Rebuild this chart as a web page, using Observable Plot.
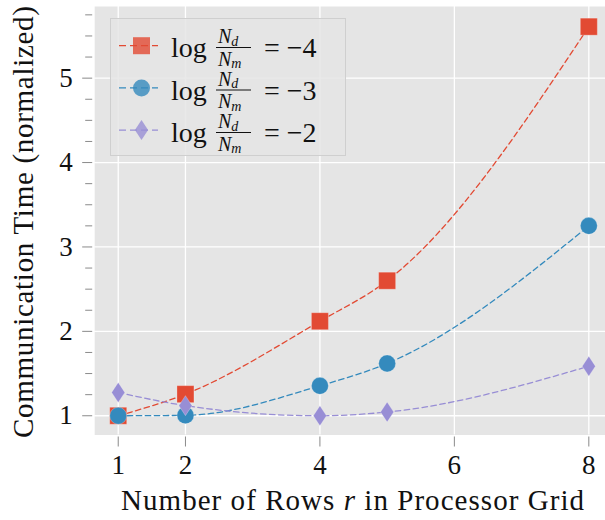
<!DOCTYPE html>
<html><head><meta charset="utf-8">
<script src="https://cdn.jsdelivr.net/npm/d3@7"></script>
<script src="https://cdn.jsdelivr.net/npm/@observablehq/plot@0.6"></script>
<style>
body{margin:0;background:#fff}
#chart{position:relative;width:605px;height:520px}
#chart svg text, #chart svg tspan{font-family:"Liberation Serif","LiberationSerif","DejaVu Serif","Tinos","Times New Roman",Times,serif}
</style>
</head><body><div id="chart"></div>
<script>
// ---- data ----
const rows = [1, 2, 4, 5, 8];
const series4 = [1.0, 1.256, 2.12, 2.60, 5.61];
const series3 = [1.0, 1.005, 1.355, 1.62, 3.25];
const series2 = [1.276, 1.12, 1.0, 1.044, 1.587];
const seriesExp = ["−4", "−3", "−2"];
const seriesColors = ["#E24A33", "#348ABD", "#988ED5"];
const xTicks = [1, 2, 4, 6, 8];
const yTicks = [1, 2, 3, 4, 5];
const yMinorTicks = [1.25, 1.5, 1.75, 2.25, 2.5, 2.75, 3.25, 3.5, 3.75, 4.25, 4.5, 4.75, 5.25, 5.5, 5.75];
const xLabelParts = ["Number of Rows ", "r", " in Processor Grid"];
const yLabel = "Communication Time (normalized)";

// ---- symbols ----
const squareSym = {draw(ctx, size){const r = Math.sqrt(size/Math.PI); ctx.rect(-r,-r,2*r,2*r);}};
const thinDiamond = {draw(ctx, size){const r = Math.sqrt(size/Math.PI); ctx.moveTo(0,-r); ctx.lineTo(0.66*r,0); ctx.lineTo(0,r); ctx.lineTo(-0.66*r,0); ctx.closePath();}};
const seriesSymbols = [squareSym, "circle", thinDiamond];
const seriesR = [8.5, 8.5, 10];
const seriesValues = [series4, series3, series2];

const FONT = '"Liberation Serif","LiberationSerif","DejaVu Serif","Tinos","Times New Roman",Times,serif';

const seriesMarks = seriesValues.flatMap((vals, k) => {
  const d = rows.map((x, i) => ({x, y: vals[i]}));
  return [
    Plot.line(d, {x: "x", y: "y", stroke: seriesColors[k], strokeWidth: 1.3, strokeDasharray: "5.5,3.5", curve: "monotone-x"}),
    Plot.dot(d, {x: "x", y: "y", r: seriesR[k], symbol: seriesSymbols[k], fill: seriesColors[k], stroke: "#ffffff", strokeOpacity: 0.25, strokeWidth: 1})
  ];
});

const plot = Plot.plot({
  width: 605,
  height: 520,
  marginLeft: 94.2,
  marginRight: 0,
  marginTop: 6,
  marginBottom: 85.5,
  style: {fontFamily: FONT, fontSize: "27px", background: "#fff", color: "#111"},
  x: {domain: [0.65, 8.248]},
  y: {domain: [0.772, 5.849]},
  marks: [
    Plot.frame({fill: "#E5E5E5", stroke: null}),
    Plot.gridX(xTicks, {stroke: "#fff", strokeOpacity: 1, strokeWidth: 1.3}),
    Plot.gridY(yTicks, {stroke: "#fff", strokeOpacity: 1, strokeWidth: 1.3}),
    Plot.axisX(xTicks, {tickSize: 10, tickPadding: 8, dy: 2, stroke: "#8a8a8a", fill: "#111", label: null, tickFormat: d => String(d)}),
    Plot.axisY(yTicks, {tickSize: 10, tickPadding: 10, dx: -2, stroke: "#8a8a8a", fill: "#111", label: null, tickFormat: d => String(d)}),
    Plot.axisY(yMinorTicks, {tickSize: 7, dx: -2, stroke: "#8a8a8a", text: null, label: null}),
    ...seriesMarks
  ]
});

document.getElementById("chart").appendChild(plot);
const svg = d3.select(plot);

// axis labels
svg.append("text")
  .attr("transform", "translate(33,222) rotate(-90)")
  .attr("text-anchor", "middle")
  .attr("font-size", 29).attr("fill", "#111")
  .attr("textLength", 432).attr("lengthAdjust", "spacing")
  .text(yLabel);

const xl = svg.append("text")
  .attr("x", 352.5).attr("y", 510)
  .attr("text-anchor", "middle")
  .attr("font-size", 29).attr("fill", "#111")
  .attr("textLength", 463).attr("lengthAdjust", "spacing");
xLabelParts.forEach((p, i) => xl.append("tspan").attr("font-style", i === 1 ? "italic" : null).text(p));

// legend
const lg = svg.append("g").attr("fill", "#111").attr("text-anchor", "start");
lg.append("rect").attr("x", 110.5).attr("y", 18.5).attr("width", 235).attr("height", 137)
  .attr("fill", "#E5E5E5").attr("fill-opacity", 0.85).attr("stroke", "#cfcfcf").attr("stroke-width", 1);

const symPath = [
  "M-8.5,-8.5h17v17h-17z",
  d3.symbol(d3.symbolCircle, Math.PI * 8.5 * 8.5)(),
  "M0,-10L6.6,0L0,10L-6.6,0Z"
];
const lt = lg.append("text").attr("font-size", 28);
seriesExp.forEach((e, i) => {
  const cy = 45.7 + 42.2 * i;
  const base = 57 + 42.5 * i;
  lg.insert("line", "text").attr("x1", 119).attr("x2", 158).attr("y1", cy).attr("y2", cy)
    .attr("stroke", seriesColors[i]).attr("stroke-width", 1.3).attr("stroke-dasharray", "7,4");
  lg.insert("path", "text").attr("d", symPath[i]).attr("transform", `translate(141.5,${cy})`)
    .attr("fill", seriesColors[i]).attr("fill-opacity", 0.8);
  lg.insert("line", "text").attr("x1", 216).attr("x2", 251).attr("y1", base - 9.5).attr("y2", base - 9.5)
    .attr("stroke", "#111").attr("stroke-width", 1.1);
  lt.append("tspan").attr("x", 171).attr("y", base).text("log");
  lt.append("tspan").attr("x", 218).attr("y", base - 14).attr("font-size", 20).attr("font-style", "italic").text("N");
  lt.append("tspan").attr("y", base - 11.5).attr("font-size", 14).attr("font-style", "italic").text("d");
  lt.append("tspan").attr("x", 218).attr("y", base + 8.5).attr("font-size", 20).attr("font-style", "italic").text("N");
  lt.append("tspan").attr("y", base + 11).attr("font-size", 14).attr("font-style", "italic").text("m");
  lt.append("tspan").attr("x", 264).attr("y", base).text("= " + e);
});
</script>
</body></html>
